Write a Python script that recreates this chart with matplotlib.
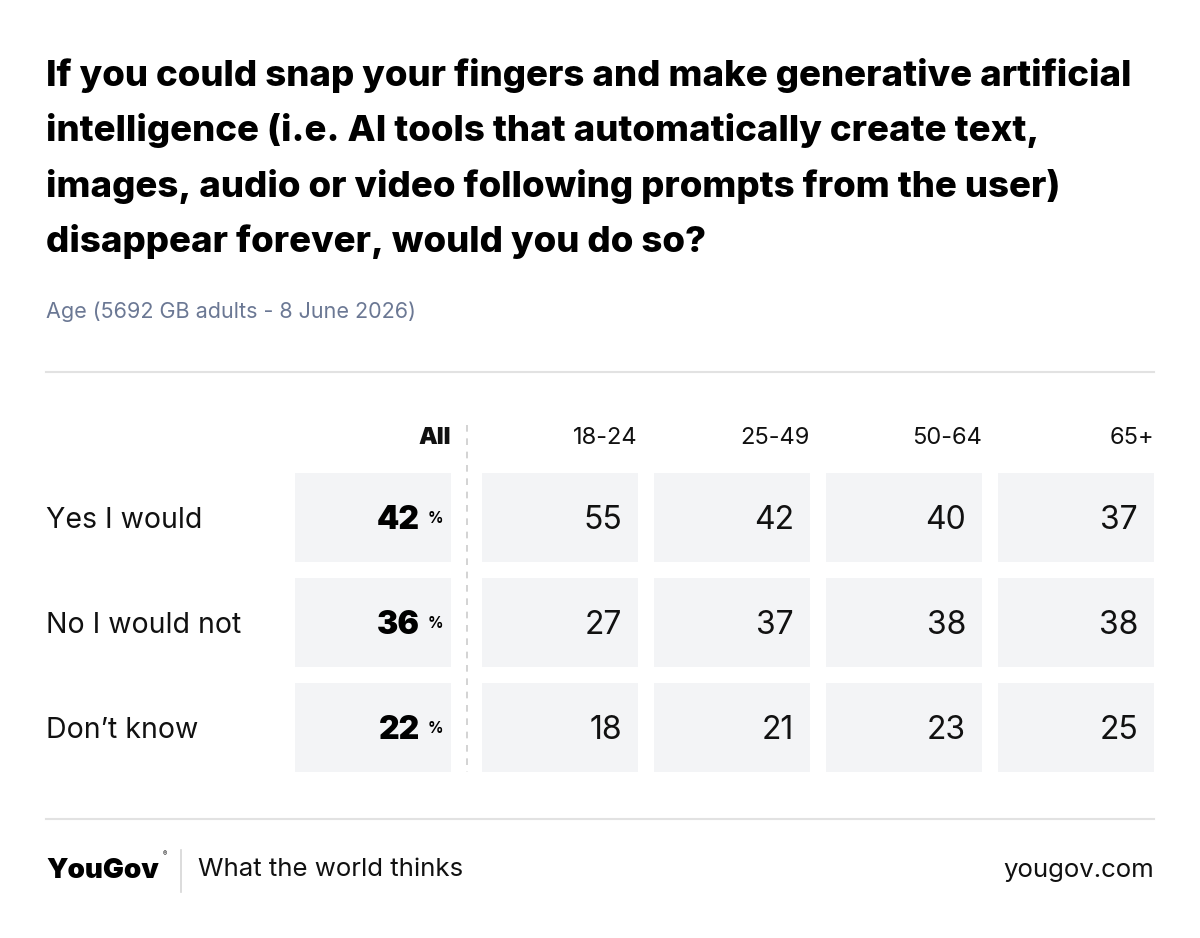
import matplotlib.pyplot as plt
from matplotlib.patches import Rectangle

# data
title = ("If you could snap your fingers and make generative artificial\n"
         "intelligence (i.e. AI tools that automatically create text,\n"
         "images, audio or video following prompts from the user)\n"
         "disappear forever, would you do so?")
subtitle = "Age (5692 GB adults - 8 June 2026)"
columns = ["All", "18-24", "25-49", "50-64", "65+"]
answers = ["Yes I would", "No I would not", "Don\u2019t know"]
all_adults = [42, 36, 22]
age_18_24 = [55, 27, 18]
age_25_49 = [42, 37, 21]
age_50_64 = [40, 38, 23]
age_65_plus = [37, 38, 25]

table = [all_adults, age_18_24, age_25_49, age_50_64, age_65_plus]

FONT = "Inter"
CELL = "#f3f4f6"
W, H = 1200, 938

fig = plt.figure(figsize=(W / 100, H / 100), dpi=100)
ax = fig.add_axes([0, 0, 1, 1])
ax.set_xlim(0, W)
ax.set_ylim(H, 0)
ax.axis("off")

ax.text(46, 58, title, fontsize=26.4, fontweight=800, family=FONT,
        va="top", ha="left", linespacing=1.73, color="#000000")
ax.text(46, 312, subtitle, fontsize=15.5, family=FONT, color="#6b7894",
        va="center", ha="left")

ax.plot([46, 1154], [372, 372], color="#e2e2e2", lw=1.5)
ax.plot([46, 1154], [819, 819], color="#e2e2e2", lw=1.5)

# table layout
col_left = [295, 482, 654, 826, 998]
col_w = 156
row_top = [473, 578, 683]
row_h = 89

for j, name in enumerate(columns):
    right = col_left[j] + col_w
    ax.text(right, 438, name, fontsize=17, family=FONT, ha="right", va="center",
            fontweight=900 if j == 0 else "normal", color="#111111")
    for i, val in enumerate(table[j]):
        ax.add_patch(Rectangle((col_left[j], row_top[i]), col_w, row_h,
                               facecolor=CELL, edgecolor="none"))
        cy = row_top[i] + row_h / 2 + 3
        if j == 0:
            ax.text(right - 31, cy, str(val), fontsize=23, family=FONT,
                    fontweight=900, ha="right", va="center", color="#000000")
            ax.text(right - 8, cy - 2, "%", fontsize=11, family=FONT,
                    fontweight="bold", ha="right", va="center", color="#000000")
        else:
            ax.text(right - 16, cy, str(val), fontsize=23, family=FONT,
                    ha="right", va="center", color="#111111")

for i, lab in enumerate(answers):
    ax.text(46, row_top[i] + row_h / 2 + 3, lab, fontsize=20.5, family=FONT,
            ha="left", va="center", color="#111111")

ax.plot([467, 467], [425, 772], color="#cccccc", lw=1.2, ls=(0, (4, 4)))

# footer
ax.text(46, 871, "YouGov", fontsize=20, family=FONT, fontweight=900,
        ha="left", va="center", color="#000000")
ax.text(163, 854, "\u00ae", fontsize=4.5, family=FONT, ha="left", va="center")
ax.plot([181, 181], [850, 892], color="#d5d5d5", lw=1.2)
ax.text(198, 870, "What the world thinks", fontsize=18.6, family=FONT,
        ha="left", va="center", color="#111111")
ax.text(1154, 870, "yougov.com", fontsize=18.6, family=FONT,
        ha="right", va="center", color="#111111")

fig.savefig("out.png", dpi=100)
